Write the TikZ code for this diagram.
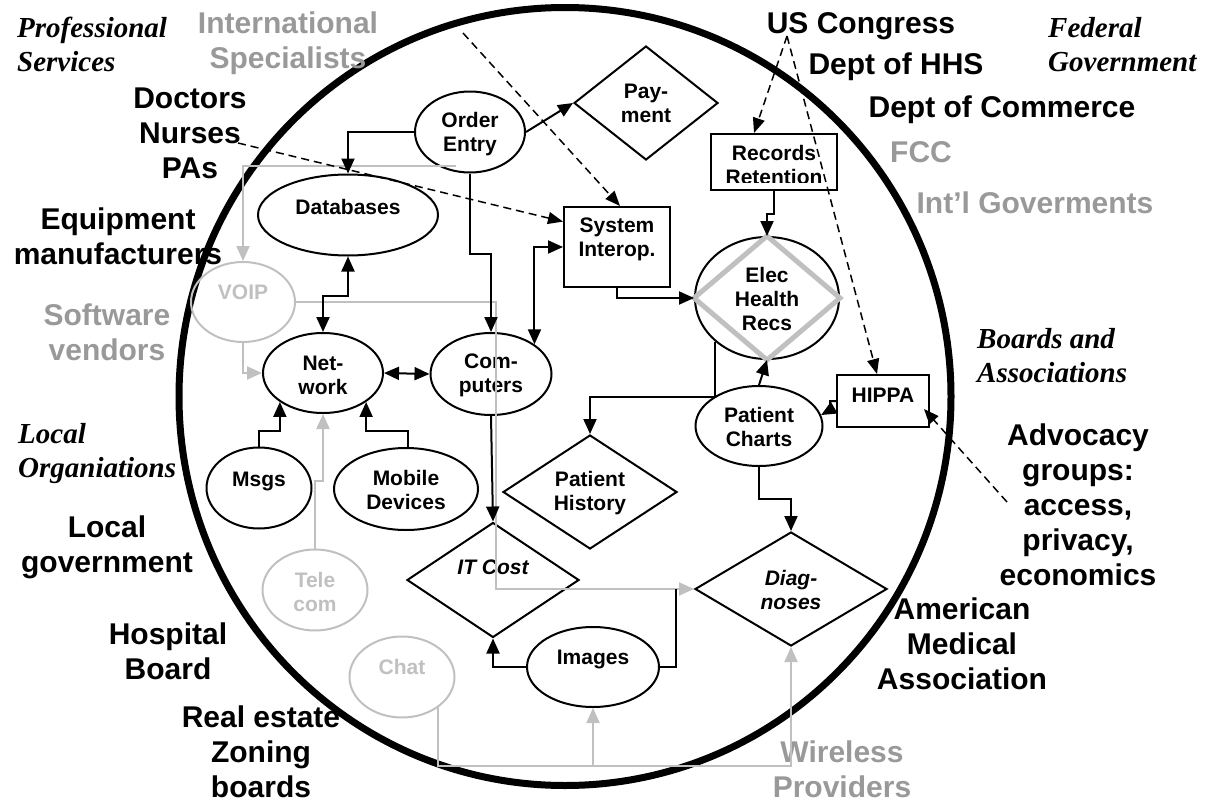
\documentclass[tikz,border=0pt]{standalone}
\usepackage{fontspec}
\setmainfont{Liberation Sans}
\newfontfamily\timesf{Liberation Serif}
\usetikzlibrary{arrows.meta,shapes.geometric,calc}
\definecolor{lblgray}{HTML}{999999}
\definecolor{lngray}{HTML}{C0C0C0}
\begin{document}
\begin{tikzpicture}[x=1pt,y=-1pt,
  >={Triangle[length=15pt,width=13pt]},
  ell/.style={ellipse, draw, line width=2pt, inner sep=0pt},
  gell/.style={ellipse, draw=lngray, line width=2pt, inner sep=0pt},
  dia/.style={diamond, draw, line width=2pt, inner sep=0pt},
  box/.style={rectangle, draw, line width=2pt, inner sep=0pt},
  nt/.style={font=\fontsize{21}{24}\selectfont\bfseries, align=center, inner sep=0pt},
  itnt/.style={nt, font=\fontsize{21}{24}\selectfont\bfseries\itshape},
  gnt/.style={nt, text=lngray},
  lbl/.style={font=\fontsize{30}{35}\selectfont\bfseries, align=center, inner sep=0pt},
  glbl/.style={lbl, text=lblgray},
  ital/.style={font=\timesf\fontsize{29}{34}\selectfont\bfseries\itshape, align=left, inner sep=0pt, anchor=west},
  ar/.style={draw, line width=2pt, ->},
  both/.style={draw, line width=2pt, <->},
  ln/.style={draw, line width=2pt},
  gar/.style={draw=lngray, line width=2pt, ->},
  gln/.style={draw=lngray, line width=2pt},
  dar/.style={draw, line width=1.5pt, dash pattern=on 8pt off 5pt, -{Triangle[length=15pt,width=12pt]}}
]
\useasboundingbox (0,0) rectangle (1205,803);

% big circle
\draw[line width=7pt] (565,396.5) ellipse [x radius=386pt, y radius=389pt];

% shapes
\node[ell, minimum width=110pt, minimum height=81pt] (oe) at (470,132) {};
\node[dia, minimum width=144pt, minimum height=114pt] (pay) at (646,103) {};
\node[box, minimum width=126pt, minimum height=56pt] (rr) at (774,162) {};
\node[box, minimum width=106pt, minimum height=80pt] (si) at (617,247) {};
\node[ell, minimum width=144pt, minimum height=122pt] (ehr) at (767,298) {};
\node[ell, minimum width=180pt, minimum height=81pt] (db) at (348,215) {};
\node[gell, minimum width=104pt, minimum height=80pt] (voip) at (243,302) {};
\node[ell, minimum width=120pt, minimum height=80pt] (net) at (323,373) {};
\node[ell, minimum width=121pt, minimum height=82pt] (comp) at (491,374) {};
\node[ell, minimum width=105pt, minimum height=81pt] (msgs) at (259,488) {};
\node[ell, minimum width=144pt, minimum height=82pt] (mob) at (406,489) {};
\node[ell, minimum width=127pt, minimum height=80pt] (pc) at (759,426) {};
\node[box, minimum width=92pt, minimum height=52pt] (hippa) at (883,401) {};
\node[dia, minimum width=174pt, minimum height=114pt] (ph) at (590,492) {};
\node[dia, minimum width=192pt, minimum height=114pt] (diag) at (791,589) {};
\node[dia, minimum width=172pt, minimum height=115pt] (itc) at (493,580) {};
\node[ell, minimum width=132pt, minimum height=80pt] (img) at (593,667) {};
\node[gell, minimum width=105pt, minimum height=81pt] (tele) at (315,590) {};
\node[gell, minimum width=105pt, minimum height=81pt] (chat) at (402,677) {};

\draw[lngray, line width=5pt] (ehr.north) -- (ehr.east) -- (ehr.south) -- (ehr.west) -- cycle;

% node texts
\node[nt] (oet) at (470,134) {Order\\Entry};
\node[nt] (payt) at (646,103) {Pay-\\ment};
\begin{scope}
\clip (713,136) rectangle (835,182);
\node[nt] (rrt) at (774,165) {Records\\Retention};
\end{scope}
\node[nt] (sit) at (617,239) {System\\Interop.};
\node[nt] (ehrt) at (767,299) {Elec\\Health\\Recs};
\node[nt] (dbt) at (348,207) {Databases};
\node[gnt] (voipt) at (243,292) {VOIP};
\node[nt] (nett) at (323,375) {Net-\\work};
\node[nt] (compt) at (491,375) {Com-\\puters};
\node[nt] (msgst) at (259,481) {Msgs};
\node[nt] (mobt) at (406,490) {Mobile\\Devices};
\node[nt] (pct) at (759,427) {Patient\\Charts};
\node[nt] (hippat) at (883,395) {HIPPA};
\node[nt] (pht) at (590,493) {Patient\\History};
\node[itnt] (diagt) at (791,590) {Diag-\\noses};
\node[itnt] (itct) at (493,567) {IT Cost};
\node[nt] (imgt) at (593,659) {Images};
\node[gnt] (telet) at (315,592) {Tele\\com};
\node[gnt] (chatt) at (402,667) {Chat};

% outer labels
\node[glbl] (intl) at (288,43) {International\\Specialists};
\node[ital] (prof) at (17,44) {Professional\\Services};
\node[lbl] (docs) at (190,133) {Doctors\\Nurses\\PAs};
\node[lbl] (equip) at (118,236) {Equipment\\manufacturers};
\node[glbl] (soft) at (107,332) {Software\\vendors};
\node[ital] (locorg) at (18,454) {Local\\Organiations};
\node[lbl] (locgov) at (107,547) {Local\\government};
\node[lbl] (hosp) at (168,651) {Hospital\\Board};
\node[lbl] (real) at (261,752) {Real estate\\Zoning\\boards};
\node[lbl] (usc) at (861,26) {US Congress};
\node[lbl] (hhs) at (896,67) {Dept of HHS};
\node[lbl] (comm) at (1002,110) {Dept of Commerce};
\node[glbl] (fcc) at (921,152) {FCC};
\node[glbl] (intg) at (1035,203) {Int’l Goverments};
\node[ital] (fed) at (1048,45) {Federal\\Government};
\node[ital] (boards) at (977,356) {Boards and\\Associations};
\node[lbl] (adv) at (1078,505) {Advocacy\\groups:\\access,\\privacy,\\economics};
\node[lbl] (ama) at (962,644) {American\\Medical\\Association};
\node[glbl] (wire) at (842,769) {Wireless\\Providers};

% gray connectors
\coordinate (g1) at (456,166);
\draw[gar] (g1) -| (voip.north);
\draw[gar] (voip.south) |- (net.west);
\draw[gar] (tele.north) -- ++(0,-68) -| (net.south);
\draw[gar] (voip.east) -- ++(200,0) |- (diag.west);
\coordinate (gb) at (437,766);
\draw[gar] (chat.-40) -- (chat.-40 |- gb) -| (diag.south);
\draw[gar] (img.south |- gb) -- (img.south);

% black connectors
\draw[ar] (oe.west) -| (db.north);
\draw[ar] (oe.east) -- (pay.west);
\draw[ar] (oe.south) -- ++(0,80) -| (comp.north);
\draw[both] (db.south) -- ++(0,39) -| (net.north);
\draw[both] (net.east) -- (comp.west);
\draw[both] (si.west) -| (comp.north east);
\draw[ar] (si.south) |- (ehr.west);
\draw[ar] (rr.south) -- ++(0,23) -| (ehr.north);
\draw[ar] (pc.north) -- (ehr.south);
\draw[ar] (ehr.220) -- ++(0,55) -| (ph.north);
\draw[ar] (hippa.west) -- ++(-6,0) -- ++(0,9) -- (pc.10);
\draw[ar] (pc.south) -- ++(0,32) -| (diag.north);
\draw[ar] (comp.south) -- (itc.north);
\draw[ar] (img.west) -| (itc.south);
\coordinate (dj) at ($(diag.west)+(-18,0)$);
\draw[ln] (img.east) -| (dj);
\draw[ar] (msgs.north) -- ++(0,-16) -| (net.south west);
\draw[ar] ($(mob.north)+(2,0)$) -- ++(0,-16) -| (net.south east);

% dashed connectors
\coordinate (d1) at (238,143);
\draw[dar] (d1) -- ($(si.north west)!0.19!(si.south west)$);
\coordinate (d2) at (463,33);
\draw[dar] (d2) -- ($(si.north)+(3,0)$);
\coordinate (d3) at (787,36);
\draw[dar] (d3) -- ($(rr.north west)+(44,0)$);
\draw[dar] (d3) -- ($(hippa.north)+(-6,0)$);
\coordinate (d5) at (1007,502);
\draw[dar] (d5) -- ($(hippa.south east)+(-6,-19)$);
\end{tikzpicture}
\end{document}
